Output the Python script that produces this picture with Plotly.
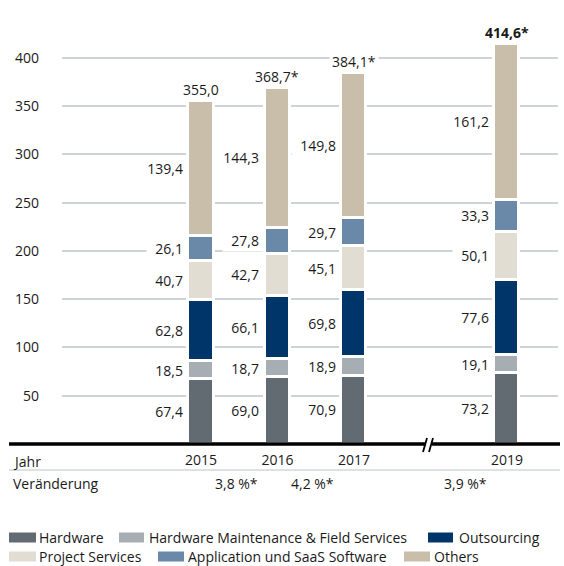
import plotly.graph_objects as go

years = [2015, 2016, 2017, 2019]
year_labels = ["2015", "2016", "2017", "2019"]
hardware = [67.4, 69.0, 70.9, 73.2]
hw_maint = [18.5, 18.7, 18.9, 19.1]
outsourcing = [62.8, 66.1, 69.8, 77.6]
project = [40.7, 42.7, 45.1, 50.1]
application = [26.1, 27.8, 29.7, 33.3]
others = [139.4, 144.3, 149.8, 161.2]
totals = [355.0, 368.7, 384.1, 414.6]
total_labels = ["355,0", "368,7*", "384,1*", "<b>414,6*</b>"]
change_x = [2015.47, 2016.46, 2018.46]
change_labels = ["3,8 %*", "4,2 %*", "3,9 %*"]
y_ticks = [50, 100, 150, 200, 250, 300, 350, 400]

series = [
    ("Hardware", hardware, "#636b72"),
    ("Hardware Maintenance & Field Services", hw_maint, "#a6aeb4"),
    ("Outsourcing", outsourcing, "#00356a"),
    ("Project Services", project, "#e2ddd3"),
    ("Application und SaaS Software", application, "#6a89a8"),
    ("Others", others, "#c8bea9"),
]

FONT = "Open Sans"
TXT = "#1a1a1a"
W, H = 564, 566
L, R, T, B = 62, 6, 29, 122
PW, PH = W - L - R, H - T - B


def X(px):
    return (px - L) / PW


def Y(py):
    return (H - B - py) / PH


def fmt(v):
    return f"{v:.1f}".replace(".", ",")


fig = go.Figure()
annotations = []
shapes = []

for name, vals, col in series:
    fig.add_trace(go.Bar(
        x=years, y=vals, name=name, width=0.327,
        marker=dict(color=col, line=dict(color="white", width=3)),
        showlegend=False,
    ))

# segment labels
for i, yr in enumerate(years):
    base = 0
    for name, vals, col in series:
        v = vals[i]
        annotations.append(dict(
            x=yr, y=base + v / 2, xref="x", yref="y",
            text="&nbsp;&nbsp;" + fmt(v) + "&nbsp;",
            xanchor="right", yanchor="middle", xshift=-12, showarrow=False,
            bgcolor="white", borderpad=1,
            font=dict(family=FONT, size=14, color=TXT),
        ))
        base += v
    annotations.append(dict(
        x=yr, y=totals[i], xref="x", yref="y", text=total_labels[i],
        xanchor="center", yanchor="bottom", yshift=-1, showarrow=False,
        bgcolor="white", borderpad=2,
        font=dict(family=FONT, size=14, color=TXT),
    ))

# Jahr / Veränderung rows
annotations.append(dict(x=X(11), y=Y(461), xref="paper", yref="paper", text="Jahr",
                        xanchor="left", yanchor="middle", showarrow=False,
                        font=dict(family=FONT, size=14, color=TXT)))
annotations.append(dict(x=X(11), y=Y(483), xref="paper", yref="paper", text="Veränderung",
                        xanchor="left", yanchor="middle", showarrow=False,
                        font=dict(family=FONT, size=14, color=TXT)))
for cx, t in zip(change_x, change_labels):
    annotations.append(dict(x=cx, y=Y(483), xref="x", yref="paper", text=t,
                            xanchor="center", yanchor="middle", showarrow=False,
                            font=dict(family=FONT, size=14, color=TXT)))

# axis line with break
shapes.append(dict(type="line", xref="paper", yref="paper", x0=X(9), x1=X(426),
                   y0=Y(444), y1=Y(444), line=dict(color="black", width=3.5)))
shapes.append(dict(type="line", xref="paper", yref="paper", x0=X(432), x1=X(560),
                   y0=Y(444), y1=Y(444), line=dict(color="black", width=3.5)))
for sx in (423, 429):
    shapes.append(dict(type="line", xref="paper", yref="paper", x0=X(sx), x1=X(sx + 4),
                       y0=Y(452), y1=Y(438), line=dict(color="black", width=1.8)))
# thin separator line
shapes.append(dict(type="line", xref="paper", yref="paper", x0=X(9), x1=X(560),
                   y0=Y(470), y1=Y(470), line=dict(color="#b9c3cd", width=1.2)))

# custom legend
legend_pos = [
    (9, 36, 38, 537.5), (119, 144, 148, 537.5), (428, 453, 458, 537.5),
    (9, 36, 38, 556.5), (158, 184, 187, 556.5), (404, 430, 433, 556.5),
]
for (name, vals, col), (s0, s1, tx, cy) in zip(series, legend_pos):
    shapes.append(dict(type="rect", xref="paper", yref="paper", x0=X(s0), x1=X(s1),
                       y0=Y(cy + 5), y1=Y(cy - 5), fillcolor=col, line=dict(width=0)))
    annotations.append(dict(x=X(tx), y=Y(cy), xref="paper", yref="paper", text=name,
                            xanchor="left", yanchor="middle", showarrow=False, borderpad=0,
                            font=dict(family=FONT, size=14, color=TXT)))

fig.update_layout(
    width=W, height=H, autosize=False,
    margin=dict(l=L, r=R, t=T, b=B),
    barmode="stack", bargap=0,
    plot_bgcolor="white", paper_bgcolor="white",
    font=dict(family=FONT, size=14, color=TXT),
    xaxis=dict(range=[2013.183, 2019.667], tickvals=years, ticktext=year_labels,
               showgrid=False, zeroline=False, showline=False, ticks="",
               ticklabelstandoff=6, tickfont=dict(family=FONT, size=14, color=TXT)),
    yaxis=dict(range=[0, 430], tickvals=y_ticks, showgrid=True, gridcolor="#cdd3d9",
               gridwidth=1.5, zeroline=False, showline=False, ticks="",
               ticklabelstandoff=22, tickfont=dict(family=FONT, size=14, color=TXT)),
    annotations=annotations, shapes=shapes,
)

fig.write_html("out.html", config={"displayModeBar": False},
               post_script="document.body.style.margin='0';document.body.style.overflow='hidden';")
